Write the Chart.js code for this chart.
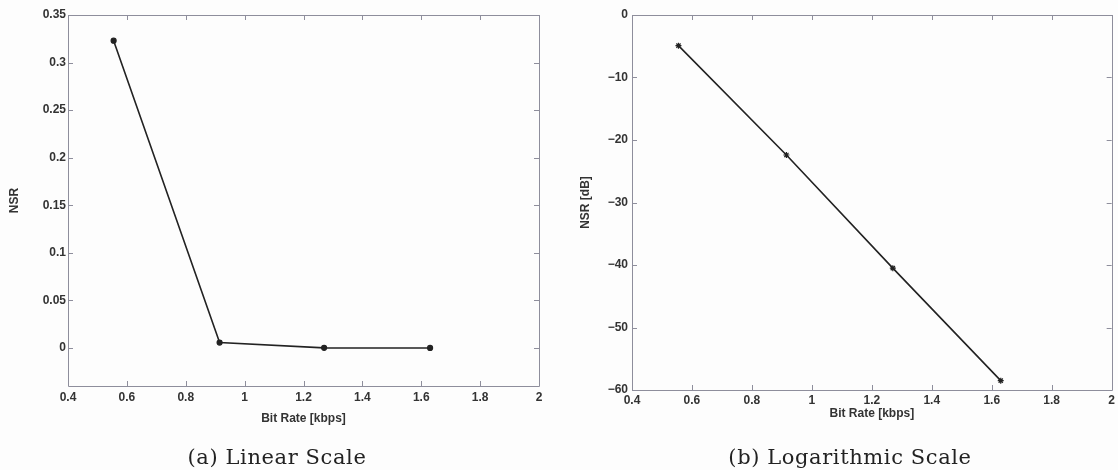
<!DOCTYPE html>
<html>
<head>
<meta charset="utf-8">
<script src="https://cdn.jsdelivr.net/npm/chart.js@4/dist/chart.umd.min.js"></script>
<style>
  html, body { margin: 0; padding: 0; background: #fdfdfd; }
  #wrap { position: relative; width: 1118px; height: 470px; overflow: hidden; }
  canvas { position: absolute; top: 0; }
  #c1 { left: 0; }
  #c2 { left: 560px; }
  .caption {
    position: absolute; top: 444px; width: 320px; text-align: center;
    font-family: "DejaVu Serif", "Liberation Serif", serif; font-size: 21px;
    letter-spacing: 0.6px; color: #222; line-height: 26px;
  }
</style>
</head>
<body>
<div id="wrap">
  <canvas id="c1" width="560" height="470"></canvas>
  <canvas id="c2" width="558" height="470"></canvas>
  <div class="caption" style="left:117px;">(a) Linear Scale</div>
  <div class="caption" style="left:690px;">(b) Logarithmic Scale</div>
</div>
<script>
// Bit rates of the four operating points (kbps)
const bitRate = [0.555, 0.915, 1.27, 1.63];
// Noise-to-signal ratio, linear
const nsrLinear = [0.323, 0.0057, 0.00009, 0.0000014];
// Noise-to-signal ratio in dB
const nsrDb = [-4.9, -22.4, -40.5, -58.5];

// Tick values
const xTicks = [0.4, 0.6, 0.8, 1, 1.2, 1.4, 1.6, 1.8, 2];
const yTicksLinear = [0, 0.05, 0.1, 0.15, 0.2, 0.25, 0.3, 0.35];
const yTicksDb = [-60, -50, -40, -30, -20, -10, 0];

const axisColor = '#8e8e9c';
const textColor = '#333333';
const tickFont = { family: '"Liberation Sans", Arial, sans-serif', size: 12, weight: 'bold' };
const titleFont = { family: '"Liberation Sans", Arial, sans-serif', size: 12, weight: 'bold' };

// Box around the plot with inward tick marks on all four sides
const boxTicks = {
  id: 'boxTicks',
  afterDatasetsDraw(chart) {
    const { ctx, chartArea: a, scales } = chart;
    const len = 5;
    ctx.save();
    ctx.strokeStyle = axisColor;
    ctx.lineWidth = 1;
    ctx.beginPath();
    ctx.rect(Math.round(a.left) + 0.5, Math.round(a.top) + 0.5,
             Math.round(a.right - a.left), Math.round(a.bottom - a.top));
    scales.x.ticks.forEach(t => {
      const px = Math.round(scales.x.getPixelForValue(t.value)) + 0.5;
      ctx.moveTo(px, a.bottom); ctx.lineTo(px, a.bottom - len);
      ctx.moveTo(px, a.top); ctx.lineTo(px, a.top + len);
    });
    scales.y.ticks.forEach(t => {
      const py = Math.round(scales.y.getPixelForValue(t.value)) + 0.5;
      ctx.moveTo(a.left, py); ctx.lineTo(a.left + len, py);
      ctx.moveTo(a.right, py); ctx.lineTo(a.right - len, py);
    });
    ctx.stroke();
    ctx.restore();
  }
};

// Tick text: short decimals, typographic minus sign
function fmt(v) {
  const s = String(Math.round(v * 1000) / 1000);
  return s.replace('-', '\u2212');
}

function makeChart(id, yValues, cfg) {
  return new Chart(document.getElementById(id), {
    type: 'line',
    data: {
      datasets: [{
        data: bitRate.map((x, i) => ({ x: x, y: yValues[i] })),
        borderColor: '#222222',
        backgroundColor: '#222222',
        borderWidth: 1.6,
        tension: 0,
        pointStyle: cfg.pointStyle,
        pointRadius: cfg.pointRadius,
        pointBorderWidth: 1.2
      }]
    },
    options: {
      responsive: false,
      animation: false,
      events: [],
      layout: { padding: cfg.padding },
      plugins: { legend: { display: false }, tooltip: { enabled: false } },
      scales: {
        x: {
          type: 'linear', min: 0.4, max: 2,
          grid: { display: false, drawTicks: false }, border: { display: false },
          afterBuildTicks: s => { s.ticks = xTicks.map(v => ({ value: v })); },
          afterFit: s => { s.height = cfg.xHeight; },
          ticks: { color: textColor, font: tickFont, padding: cfg.xTickPad, maxRotation: 0, callback: fmt },
          title: { display: true, text: 'Bit Rate [kbps]', color: textColor, font: titleFont, padding: { top: 2, bottom: 4 } }
        },
        y: {
          type: 'linear', min: cfg.yMin, max: cfg.yMax,
          grid: { display: false, drawTicks: false }, border: { display: false },
          afterBuildTicks: s => { s.ticks = cfg.yTicks.map(v => ({ value: v })); },
          afterFit: s => { s.width = cfg.yWidth; },
          ticks: { color: textColor, font: tickFont, padding: cfg.yTickPad, callback: fmt },
          title: { display: true, text: cfg.yTitle, color: textColor, font: titleFont, padding: { top: cfg.yTitlePad, bottom: 0 } }
        }
      }
    },
    plugins: [boxTicks]
  });
}

// (a) linear NSR
makeChart('c1', nsrLinear, {
  yMin: -0.04, yMax: 0.35, yTicks: yTicksLinear, yTitle: 'NSR',
  pointStyle: 'circle', pointRadius: 2.5,
  padding: { top: 15, right: 21, left: 0, bottom: 40 },
  xHeight: 44, xTickPad: 4, yWidth: 68, yTickPad: 2, yTitlePad: 7
});

// (b) NSR in dB
makeChart('c2', nsrDb, {
  yMin: -60, yMax: 0, yTicks: yTicksDb, yTitle: 'NSR [dB]',
  pointStyle: 'star', pointRadius: 3,
  padding: { top: 15, right: 6, left: 0, bottom: 45 },
  xHeight: 35, xTickPad: 3, yWidth: 72, yTickPad: 4, yTitlePad: 18
});
</script>
</body>
</html>
